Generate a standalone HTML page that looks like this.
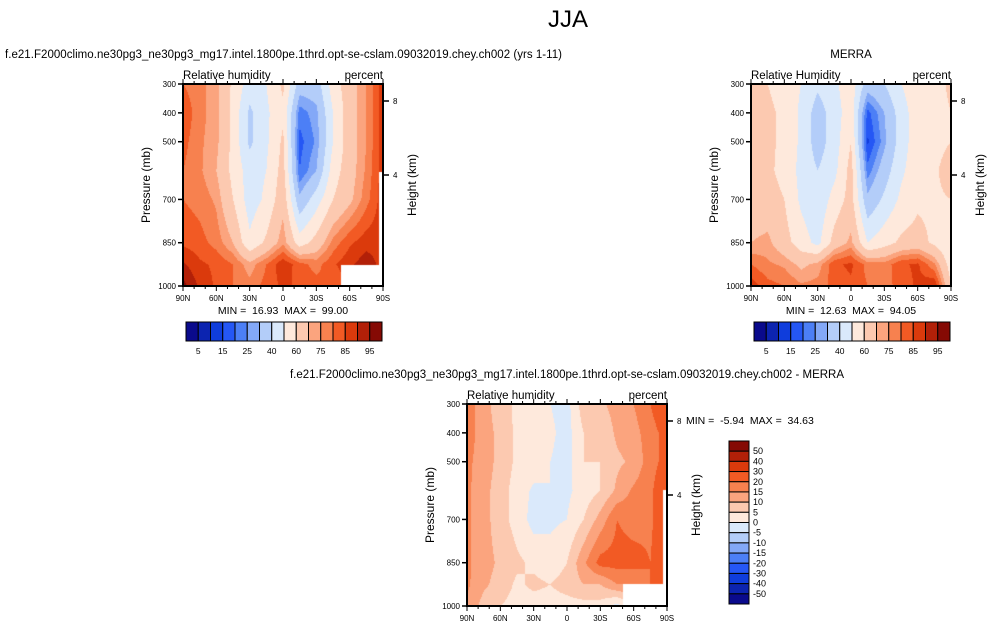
<!DOCTYPE html>
<html><head><meta charset="utf-8"><style>
html,body{margin:0;padding:0;background:#fff;}
#wrap{position:relative;width:989px;height:628px;overflow:hidden;font-family:"Liberation Sans",sans-serif;}
canvas{position:absolute;left:0;top:0;}
svg{position:absolute;left:0;top:0;}
</style></head><body>
<div id="wrap">
<canvas id="cv" width="989" height="628"></canvas>
<svg id="sv" width="989" height="628"></svg>
</div>
<script>
const lats = [90,75,60,45,30,15,0,-15,-30,-45,-60,-75,-90];
const pres = [300,400,500,600,700,850,925,1000];
const rhLevels = [5,10,15,20,25,30,40,50,60,70,75,80,85,90,95];
const diffLevels = [-50,-40,-30,-20,-15,-10,-5,0,5,10,15,20,30,40,50];
const rhLabels = ["5","15","25","40","60","75","85","95"];
const diffLabels = ["50","40","30","20","15","10","5","0","-5","-10","-15","-20","-30","-40","-50"];
const xTickLabels = ["90N","60N","30N","0","30S","60S","90S"];
const xTickLats = [90,60,30,0,-30,-60,-90];
const yTickVals = [300,400,500,700,850,1000];
const hTickLabels = ["8","4"];
const modelRH = [
 [80,77,72,58,45,50,62,35,35,55,66,75,88],
 [84,77,72,57,38,48,58,22,28,50,66,75,88],
 [82,76,72,57,38,48,62,18,26,50,66,75,88],
 [80,76,70,57,45,50,64,20,30,55,66,76,88],
 [80,78,74,60,45,52,67,32,45,60,68,78,88],
 [84,82,78,70,52,62,74,55,64,77,84,88,88],
 [91,86,84,80,72,80,89,82,78,84,89,93,88],
 [97,89,84,80,77,82,86,84,82,80,86,86,86]];
const merraRH = [
 [62,60,56,50,42,48,56,35,40,50,56,56,62],
 [65,62,58,48,35,45,56,18,30,45,56,56,60],
 [66,62,58,48,35,45,60,14,28,45,56,56,60],
 [64,62,57,47,40,47,64,22,35,48,56,58,66],
 [64,64,60,48,42,54,64,32,42,52,58,58,60],
 [70,72,64,55,47,64,72,50,56,62,64,58,50],
 [80,76,74,68,72,84,86,78,77,84,86,76,55],
 [88,82,80,76,77,82,84,80,78,82,86,90,60]];
const diffRH = [
 [18,12,7,4,2,0,-2,8,9,12,15,20,25],
 [17,13,8,4,3,1,-2,5,6,11,13,18,22],
 [16,13,8,4,3,0,-2,5,5,9,11,18,22],
 [16,12,7,3,-1,0,-1,2,5,11,16,19,25],
 [16,12,7,3,-2,-1,0,5,12,20,18,19,25],
 [16,12,9,6,4,2,5,14,22,22,22,20,25],
 [16,11,8,4,6,5,7,10,10,15,15,20,25],
 [14,8,5,3,3,3,3,3,3,-2,5,5,5]];
const colors = ["#0a0a8c","#0c24b0","#0f3ddc","#2557f5","#4c7ff6","#83a8f7","#b3cdf9","#dae9fb","#fee9dc","#fcc9b0","#fba47e","#f7814f","#f25a24","#db3a0c","#b22008","#850a04"];

const NS="http://www.w3.org/2000/svg";
const sv=document.getElementById('sv');
const ctx=document.getElementById('cv').getContext('2d');
function el(tag,attrs,txt){const e=document.createElementNS(NS,tag);for(const k in attrs)e.setAttribute(k,attrs[k]);if(txt!==undefined)e.textContent=txt;sv.appendChild(e);return e;}
function colorFor(v,levels){let i=0;while(i<levels.length&&v>=levels[i])i++;return colors[i];}
function interp(grid,lat,p){
  let fi=(90-lat)/15; fi=Math.max(0,Math.min(12,fi));
  let j=0; while(j<pres.length-2&&p>pres[j+1])j++;
  let fj=(p-pres[j])/(pres[j+1]-pres[j]); fj=Math.max(0,Math.min(1,fj));
  const i0=Math.min(11,Math.floor(fi)), tx=fi-i0;
  const a=grid[j][i0],b=grid[j][i0+1],c=grid[j+1][i0],d=grid[j+1][i0+1];
  return (a*(1-tx)+b*tx)*(1-fj)+(c*(1-tx)+d*tx)*fj;
}
function panel(id,x0,y0,grid,levels,title,hasMissing){
  const W=200,H=202;
  const xs=lat=>x0+(90-lat)/180*W, ys=p=>y0+(p-300)/700*H;
  for(let py=0;py<H;py++)for(let px=0;px<W;px++){
    const lat=90-(px+0.5)/W*180, p=300+(py+0.5)/H*700;
    ctx.fillStyle=colorFor(interp(grid,lat,p),levels);
    ctx.fillRect(x0+px,y0+py,1,1);
  }
  ctx.fillStyle="#fff";
  if(hasMissing){ctx.fillRect(x0+hasMissing[0],y0+hasMissing[1],W-hasMissing[0],H-hasMissing[1]);
    ctx.fillRect(x0+W-4,y0+hasMissing[2],4,H-hasMissing[2]);}
  el('rect',{x:x0,y:y0,width:W,height:H,fill:'none',stroke:'#000','stroke-width':2,});
  for(let lat=90;lat>=-90;lat-=10){const x=xs(lat);const big=lat%30===0;
    el('line',{x1:x,y1:y0,x2:x,y2:y0-(big?5:3),stroke:'#000','stroke-width':1});
    el('line',{x1:x,y1:y0+H,x2:x,y2:y0+H+(big?5:3),stroke:'#000','stroke-width':1});}
  xTickLats.forEach((l,k)=>{el('text',{x:xs(l),y:y0+H+15,'font-size':8,'text-anchor':'middle',},xTickLabels[k]);});
  yTickVals.forEach(p=>{const y=ys(p);el('line',{x1:x0,y1:y,x2:x0-5,y2:y,stroke:'#000','stroke-width':1.5});
    el('text',{x:x0-7,y:y+3,'font-size':8,'text-anchor':'end',},String(p));});
  [[y0+17,hTickLabels[0]],[y0+91,hTickLabels[1]]].forEach(([y,t])=>{el('line',{x1:x0+W,y1:y,x2:x0+W+6,y2:y,stroke:'#000','stroke-width':1.5});
    el('text',{x:x0+W+10,y:y+3,'font-size':8,},t);});
  el('text',{x:x0,y:y0-5,'font-size':11.5,},title);
  el('text',{x:x0+W,y:y0-5,'font-size':11.5,'text-anchor':'end',},'percent');
  el('text',{x:x0-33,y:y0+H/2,'font-size':12,'text-anchor':'middle',transform:`rotate(-90 ${x0-33} ${y0+H/2})`,},'Pressure (mb)');
  el('text',{x:x0+W+33,y:y0+H/2,'font-size':12,'text-anchor':'middle',transform:`rotate(-90 ${x0+W+33} ${y0+H/2})`,},'Height (km)');
}
el('text',{x:568,y:27,'font-size':24,'text-anchor':'middle',},'JJA');
el('text',{x:5,y:58,'font-size':11.5,'textLength':557,},'f.e21.F2000climo.ne30pg3_ne30pg3_mg17.intel.1800pe.1thrd.opt-se-cslam.09032019.chey.ch002 (yrs 1-11)');
el('text',{x:851,y:58,'font-size':11.5,'text-anchor':'middle',},'MERRA');
el('text',{x:567,y:378,'font-size':11.5,'text-anchor':'middle',},'f.e21.F2000climo.ne30pg3_ne30pg3_mg17.intel.1800pe.1thrd.opt-se-cslam.09032019.chey.ch002 - MERRA');
panel('model-panel',183,84,modelRH,rhLevels,'Relative humidity',[158,181,88]);
panel('merra-panel',751,84,merraRH,rhLevels,'Relative Humidity',null);
panel('diff-panel',467,404,diffRH,diffLevels,'Relative humidity',[156,180,86]);
el('text',{x:283,y:314,'font-size':10.5,'text-anchor':'middle',},'MIN =\u00a0 16.93\u00a0 MAX =\u00a0 99.00');
el('text',{x:851,y:314,'font-size':10.5,'text-anchor':'middle',},'MIN =\u00a0 12.63\u00a0 MAX =\u00a0 94.05');
el('text',{x:686,y:424,'font-size':10.5,},'MIN =\u00a0 -5.94\u00a0 MAX =\u00a0 34.63');
function hbar(x0,name){const bw=12.25;
  for(let i=0;i<16;i++){const r=el('rect',{x:x0+i*bw,y:322,width:bw,height:19,fill:colors[i],stroke:'#000','stroke-width':1});}
  rhLabels.forEach((t,k)=>{el('text',{x:x0+(2*k+1)*bw,y:354,'font-size':8.5,'text-anchor':'middle',},t);});}
hbar(186,'model-colorbar');hbar(754,'merra-colorbar');
(function(){const bh=163/16;
  for(let i=0;i<16;i++){const r=el('rect',{x:729,y:441+i*bh,width:20,height:bh,fill:colors[15-i],stroke:'#000','stroke-width':1});}
  diffLabels.forEach((t,k)=>{el('text',{x:753,y:441+(k+1)*bh+3,'font-size':9,},t);});})();
</script>
</body></html>
